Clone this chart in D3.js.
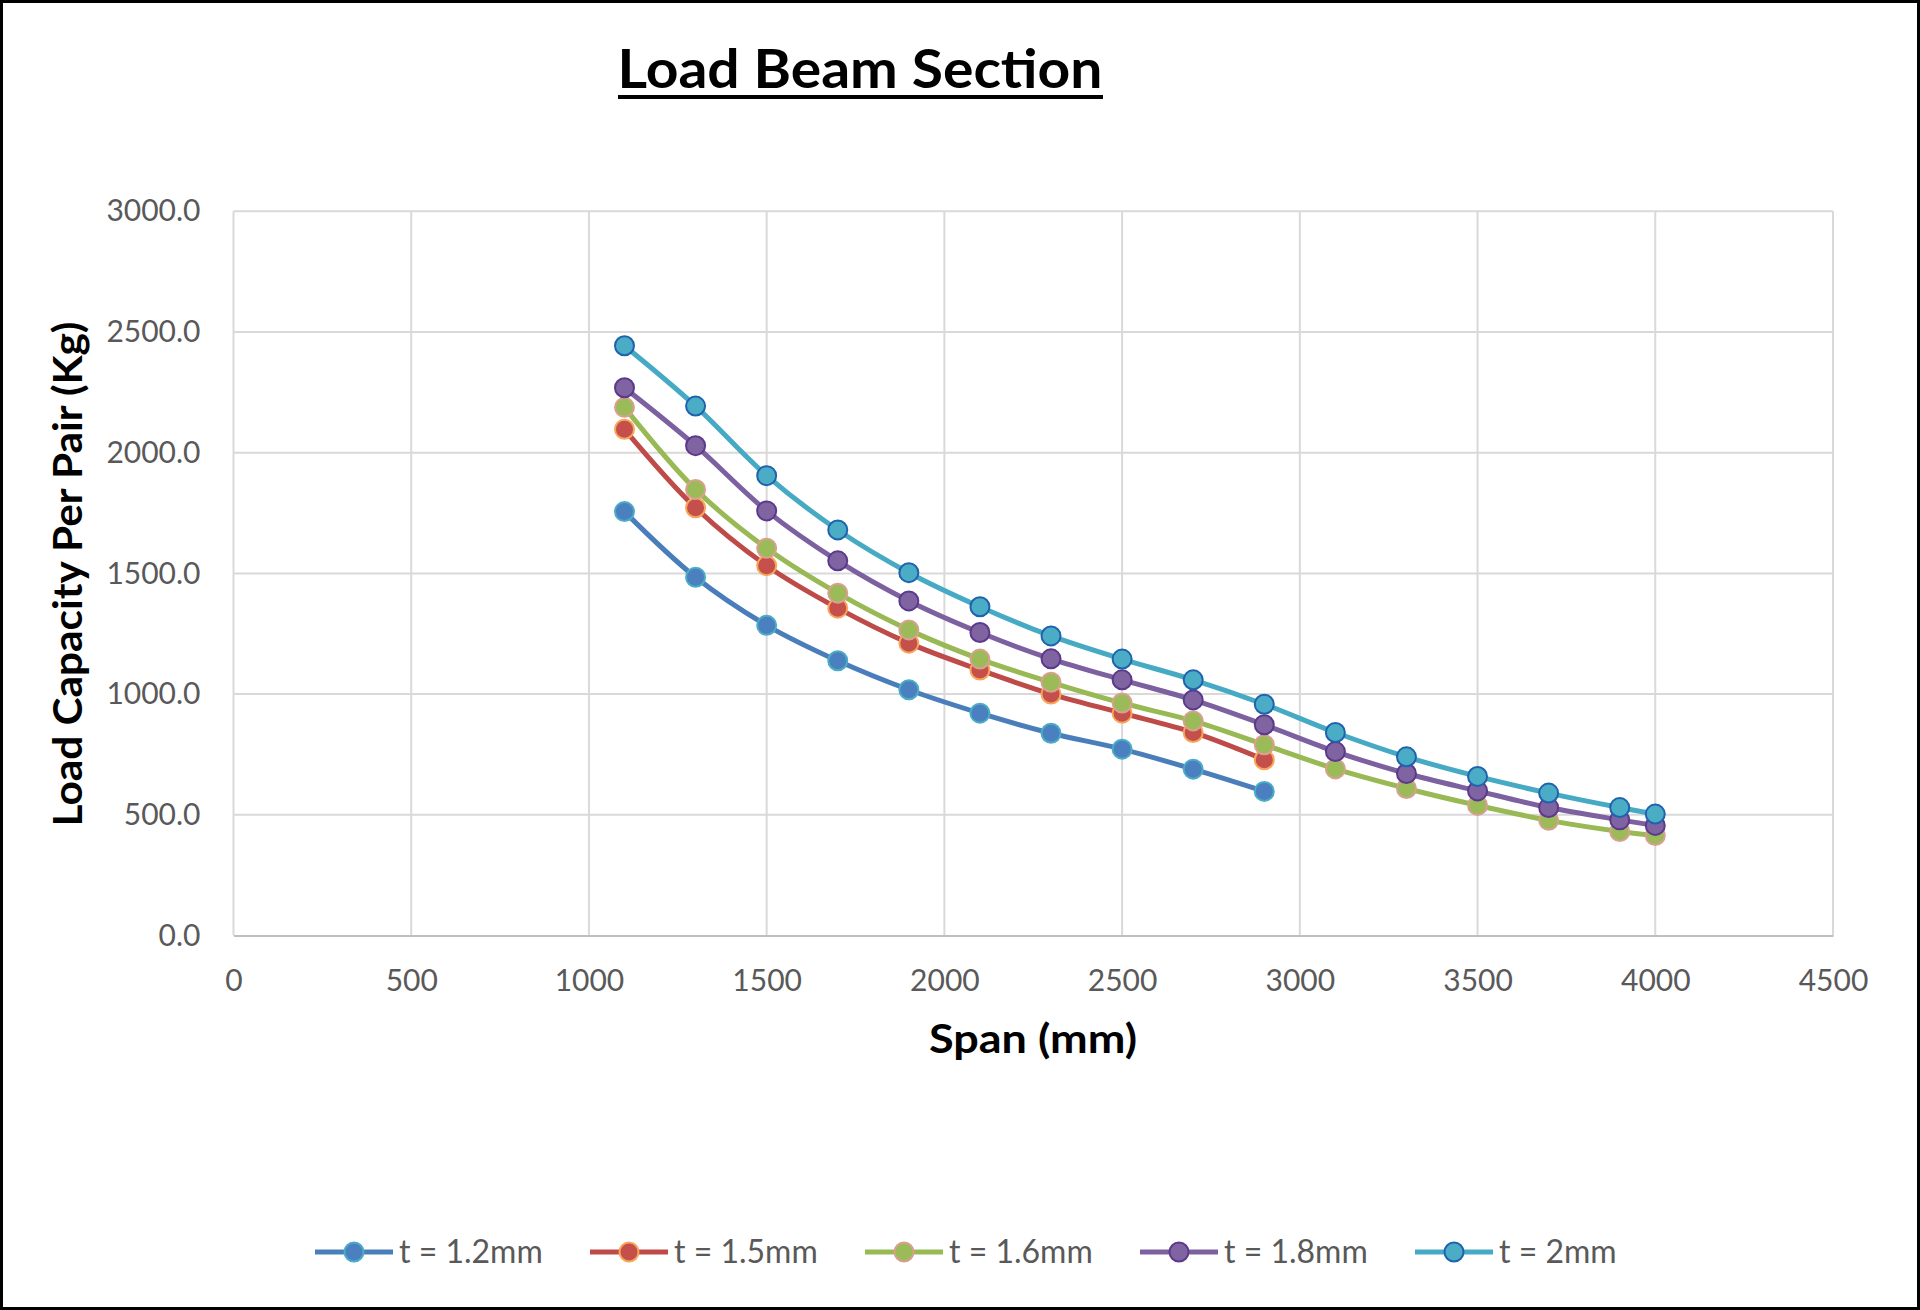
<!DOCTYPE html>
<html>
<head>
<meta charset="utf-8">
<script src="https://cdn.jsdelivr.net/npm/d3@7"></script>
<style>
  html, body { margin: 0; padding: 0; background: #fff; }
  svg { display: block; }
</style>
</head>
<body>
<svg id="chart" width="1920" height="1310"></svg>
<script>
// ---- Data ----
const spans = [1100, 1300, 1500, 1700, 1900, 2100, 2300, 2500, 2700, 2900, 3100, 3300, 3500, 3700, 3900, 4000];
const seriesNames = ["t = 1.2mm", "t = 1.5mm", "t = 1.6mm", "t = 1.8mm", "t = 2mm"];
const t12 = [1756, 1484, 1285, 1138, 1018, 921, 838, 772, 689, 597];
const t15 = [2097, 1772, 1532, 1356, 1211, 1100, 1000, 921, 841, 728];
const t16 = [2188, 1848, 1604, 1418, 1266, 1145, 1049, 963, 889, 790, 690, 609, 539, 477, 431, 414];
const t18 = [2269, 2029, 1759, 1552, 1386, 1255, 1146, 1059, 976, 873, 762, 671, 599, 530, 479, 456];
const t20 = [2443, 2193, 1905, 1680, 1503, 1362, 1241, 1145, 1059, 958, 841, 740, 659, 590, 530, 503];
const xTicks = [0, 500, 1000, 1500, 2000, 2500, 3000, 3500, 4000, 4500];
const yTicks = [0, 500, 1000, 1500, 2000, 2500, 3000];

const seriesValues = [t12, t15, t16, t18, t20];
const lineColors = ["#4A7EBB", "#BE4B48", "#98B954", "#7D60A0", "#46AAC5"];
const fillColors = ["#4A80C0", "#C44F4B", "#9BBB59", "#8064A2", "#4BACC6"];
const edgeColors = ["#4BACC6", "#F8A65A", "#D9A08F", "#5B3A8C", "#1F63AE"];

const FONT = "Lato, 'Open Sans', sans-serif";

const svg = d3.select("#chart");

// outer border
svg.append("rect").attr("x", 1.5).attr("y", 1.5).attr("width", 1917).attr("height", 1307)
  .attr("fill", "#fff").attr("stroke", "#000").attr("stroke-width", 3);

const x = d3.scaleLinear().domain([0, 4500]).range([233.5, 1833]);
const y = d3.scaleLinear().domain([0, 3000]).range([935.5, 211.3]);

// gridlines
const grid = svg.append("g");
grid.selectAll("line.h").data(yTicks.filter(d => d > 0)).join("line")
  .attr("x1", x(0)).attr("x2", x(4500))
  .attr("y1", d => y(d)).attr("y2", d => y(d))
  .attr("stroke", "#D9D9D9").attr("stroke-width", 2);
grid.selectAll("line.v").data(xTicks).join("line")
  .attr("y1", y(0)).attr("y2", y(3000))
  .attr("x1", d => x(d)).attr("x2", d => x(d))
  .attr("stroke", "#D9D9D9").attr("stroke-width", 2);

// x axis
const xAxis = svg.append("g").attr("transform", `translate(0,${y(0)})`)
  .call(d3.axisBottom(x).tickValues(xTicks).tickSize(0).tickPadding(34).tickFormat(d3.format("d")));
xAxis.select(".domain").attr("stroke", "#BFBFBF").attr("stroke-width", 2);
xAxis.selectAll("text").attr("font-family", FONT).attr("font-size", 30).attr("fill", "#595959");

// y axis
const yAxis = svg.append("g").attr("transform", `translate(${x(0)},0)`)
  .call(d3.axisLeft(y).tickValues(yTicks).tickSize(0).tickPadding(33).tickFormat(d3.format(".1f")));
yAxis.select(".domain").remove();
yAxis.selectAll("text").attr("font-family", FONT).attr("font-size", 30).attr("fill", "#595959");

// series
const line = d3.line().x(d => x(d[0])).y(d => y(d[1])).curve(d3.curveCatmullRom.alpha(0.5));
seriesValues.forEach((vals, i) => {
  const pts = vals.map((v, j) => [spans[j], v]);
  const g = svg.append("g");
  g.append("path").attr("d", line(pts)).attr("fill", "none")
    .attr("stroke", lineColors[i]).attr("stroke-width", 5).attr("stroke-linejoin", "round");
  g.selectAll("circle").data(pts).join("circle")
    .attr("cx", d => x(d[0])).attr("cy", d => y(d[1])).attr("r", 9.5)
    .attr("fill", fillColors[i]).attr("stroke", edgeColors[i]).attr("stroke-width", 2);
});

// title
svg.append("text").attr("x", 860).attr("y", 88).attr("text-anchor", "middle")
  .attr("font-family", FONT).attr("font-weight", "bold").attr("font-size", 54)
  .attr("textLength", 485).attr("lengthAdjust", "spacingAndGlyphs")
  .attr("fill", "#000").text("Load Beam Section");
svg.append("line").attr("x1", 618).attr("x2", 1103).attr("y1", 97).attr("y2", 97)
  .attr("stroke", "#000").attr("stroke-width", 4);

// axis titles
svg.append("text").attr("x", 1033).attr("y", 1053).attr("text-anchor", "middle")
  .attr("font-family", FONT).attr("font-weight", "bold").attr("font-size", 40)
  .attr("textLength", 208).attr("lengthAdjust", "spacingAndGlyphs")
  .attr("fill", "#000").text("Span (mm)");
svg.append("text").attr("transform", "translate(82,574) rotate(-90)").attr("text-anchor", "middle")
  .attr("font-family", FONT).attr("font-weight", "bold").attr("font-size", 40)
  .attr("textLength", 505).attr("lengthAdjust", "spacingAndGlyphs")
  .attr("fill", "#000").text("Load Capacity Per Pair (Kg)");

// legend
const legend = svg.append("g").attr("transform", "translate(315,1252)");
seriesNames.forEach((name, i) => {
  const g = legend.append("g").attr("transform", `translate(${i * 275},0)`);
  g.append("line").attr("x1", 0).attr("x2", 78).attr("y1", 0).attr("y2", 0)
    .attr("stroke", lineColors[i]).attr("stroke-width", 5);
  g.append("circle").attr("cx", 39).attr("cy", 0).attr("r", 9.5)
    .attr("fill", fillColors[i]).attr("stroke", edgeColors[i]).attr("stroke-width", 2);
  g.append("text").attr("x", 84).attr("y", 0).attr("dy", "0.35em")
    .attr("font-family", FONT).attr("font-size", 32).attr("fill", "#595959").text(name);
});
</script>
</body>
</html>
